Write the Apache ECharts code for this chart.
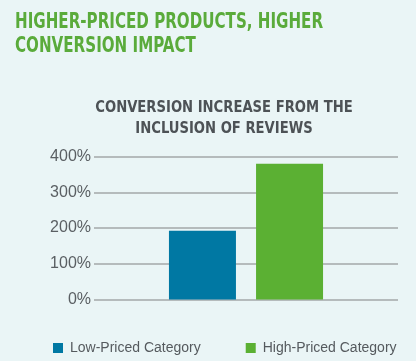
<!DOCTYPE html>
<html><head><meta charset="utf-8">
<script src="https://cdn.jsdelivr.net/npm/echarts@6/dist/echarts.min.js"></script>
<style>html,body{margin:0;padding:0;background:#eaf5f6;}#c{width:416px;height:361px;}</style>
</head><body><div id="c"></div>
<script>
var categories = ['Conversion increase'];
var seriesNames = ['Low-Priced Category', 'High-Priced Category'];
var lowValues = [192];
var highValues = [380];
var yTicks = [0, 100, 200, 300, 400];
var titleText = 'HIGHER-PRICED PRODUCTS, HIGHER\nCONVERSION IMPACT';
var subtitleText = 'CONVERSION INCREASE FROM THE\nINCLUSION OF REVIEWS';

var chart = echarts.init(document.getElementById('c'));
chart.setOption({
  backgroundColor: '#eaf5f6',
  animation: false,
  graphic: [{
    type: 'text', x: 15, y: 11, scaleX: 0.8,
    style: {text: titleText, fill: '#5aab3b', font: 'bold 21px "DejaVu Sans Condensed",sans-serif', lineHeight: 24, textAlign: 'left', textVerticalAlign: 'top'}
  }, {
    type: 'text', x: 224, y: 97, scaleX: 0.915,
    style: {text: subtitleText, fill: '#4d5256', font: 'bold 16px "DejaVu Sans Condensed",sans-serif', lineHeight: 21, textAlign: 'center', textVerticalAlign: 'top'}
  }],
  legend: {
    left: 53, top: 341, padding: 0, itemWidth: 10, itemHeight: 10, itemGap: 45,
    icon: 'rect',
    textStyle: {color: '#555a5e', fontSize: 14, fontFamily: '"Liberation Sans",sans-serif', padding: [0,0,0,2]},
    data: seriesNames
  },
  grid: {left: 94, right: 18, top: 156.5, bottom: 61.5, containLabel: false},
  xAxis: {
    type: 'category', data: categories,
    axisLine: {show: false}, axisTick: {show: false}, axisLabel: {show: false}
  },
  yAxis: {
    type: 'value', min: yTicks[0], max: yTicks[yTicks.length-1], interval: 100,
    axisLine: {show: false}, axisTick: {show: false},
    axisLabel: {formatter: '{value}%', color: '#5a5f63', fontSize: 16, margin: 3, fontFamily: '"Liberation Sans",sans-serif'},
    splitLine: {lineStyle: {color: '#a3a7a9', width: 1.5}}
  },
  series: [{
    name: seriesNames[0], type: 'bar', data: lowValues, barWidth: 67, barGap: '30%',
    itemStyle: {color: '#0078a3'}
  }, {
    name: seriesNames[1], type: 'bar', data: highValues, barWidth: 67,
    itemStyle: {color: '#5bb033'}
  }]
});
</script></body></html>
